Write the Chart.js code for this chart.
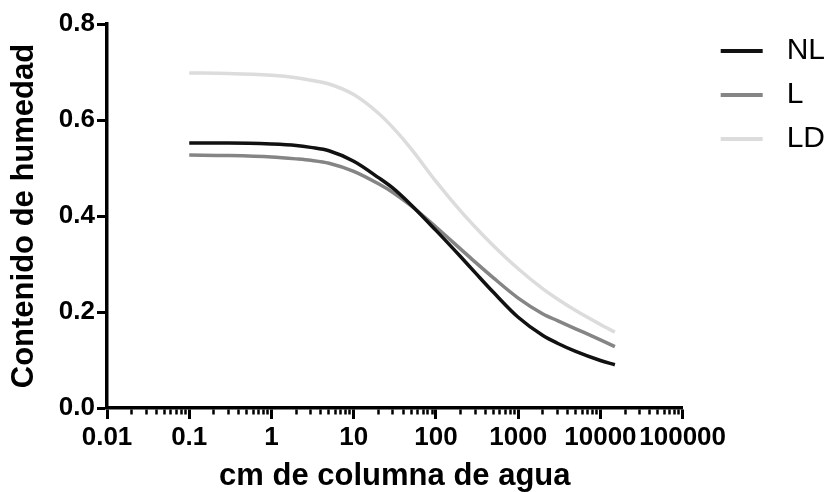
<!DOCTYPE html>
<html>
<head>
<meta charset="utf-8">
<script src="https://cdn.jsdelivr.net/npm/chart.js"></script>
<style>
  html, body { margin: 0; padding: 0; background: #ffffff; }
  #wrap { width: 827px; height: 492px; }
</style>
</head>
<body>
<div id="wrap"><canvas id="c" width="827" height="492"></canvas></div>
<script>
// ---- data ----
const xValues  = [0.1, 0.3, 1, 2, 3, 5, 10, 20, 30, 50, 100, 200, 300, 500, 1000, 2000, 3000, 5000, 10000, 15000];
const nlValues = [0.552, 0.552, 0.550, 0.547, 0.543, 0.536, 0.514, 0.480, 0.458, 0.423, 0.370, 0.315, 0.282, 0.241, 0.189, 0.151, 0.135, 0.118, 0.099, 0.090];
const lValues  = [0.527, 0.526, 0.523, 0.519, 0.516, 0.510, 0.493, 0.467, 0.449, 0.421, 0.377, 0.331, 0.304, 0.271, 0.229, 0.196, 0.182, 0.165, 0.142, 0.128];
const ldValues = [0.698, 0.697, 0.693, 0.688, 0.683, 0.675, 0.653, 0.614, 0.584, 0.540, 0.472, 0.410, 0.377, 0.338, 0.290, 0.248, 0.227, 0.203, 0.174, 0.158];
const seriesNames = ['NL', 'L', 'LD'];
const decadeTicks = [0.01, 0.1, 1, 10, 100, 1000, 10000, 100000];
const decadeLabels = ['0.01', '0.1', '1', '10', '100', '1000', '10000', '100000'];
const yTickValues = [0, 0.2, 0.4, 0.6, 0.8];
const yTickLabels = ['0.0', '0.2', '0.4', '0.6', '0.8'];
const xTitle = 'cm de columna de agua';
const yTitle = 'Contenido de humedad';

const colors = ['#111111', '#858585', '#dcdcdc'];
const FONT = "'Liberation Sans', Arial, Helvetica, sans-serif";

function swatch(color) {
  const cv = document.createElement('canvas');
  cv.width = 75; cv.height = 4;
  const g = cv.getContext('2d');
  g.fillStyle = color;
  g.fillRect(24, 0, 42, 4);
  return cv;
}

function isDecade(v) {
  return decadeTicks.findIndex(d => Math.abs(Math.log10(v) - Math.log10(d)) < 1e-6);
}

const seriesValues = [nlValues, lValues, ldValues];
const datasets = seriesNames.map((name, k) => ({
  label: name,
  data: xValues.map((x, i) => ({ x: x, y: seriesValues[k][i] })),
  borderColor: colors[k],
  backgroundColor: colors[k],
  borderWidth: 3.5,
  pointRadius: 0,
  pointHoverRadius: 0,
  pointStyle: swatch(colors[k]),
  cubicInterpolationMode: 'monotone',
  fill: false
}));

new Chart(document.getElementById('c'), {
  type: 'line',
  data: { datasets: datasets },
  options: {
    responsive: false,
    animation: false,
    devicePixelRatio: 1,
    layout: { padding: { top: 22, right: -8, bottom: 0, left: 0 } },
    plugins: {
      tooltip: { enabled: false },
      legend: {
        position: 'right',
        align: 'start',
        labels: {
          usePointStyle: true,
          pointStyleWidth: 75,
          padding: 14,
          color: '#000000',
          font: { family: FONT, size: 30 }
        }
      }
    },
    scales: {
      x: {
        type: 'logarithmic',
        min: 0.01,
        max: 100000,
        afterBuildTicks: (scale) => {
          const t = [];
          for (let i = 0; i < decadeTicks.length; i++) {
            t.push({ value: decadeTicks[i], major: true });
            if (i < decadeTicks.length - 1) {
              for (let m = 2; m <= 9; m++) t.push({ value: decadeTicks[i] * m, major: false });
            }
          }
          scale.ticks = t;
        },
        afterFit: (scale) => { scale.height = 84; },
        grid: {
          drawOnChartArea: false,
          drawTicks: true,
          tickLength: 11,
          tickColor: '#000000',
          tickWidth: (ctx) => (ctx.tick && isDecade(ctx.tick.value) >= 0) ? 3 : 2.5,
          tickBorderDash: (ctx) => (ctx.tick && isDecade(ctx.tick.value) >= 0) ? [] : [5, 30]
        },
        border: { display: true, color: '#000000', width: 3.5 },
        ticks: {
          autoSkip: false,
          maxRotation: 0,
          minRotation: 0,
          padding: 3,
          color: '#000000',
          font: { family: FONT, size: 26, weight: 'bold' },
          callback: (value) => {
            const idx = isDecade(value);
            return idx >= 0 ? decadeLabels[idx] : '';
          }
        },
        title: {
          display: true,
          text: xTitle,
          color: '#000000',
          font: { family: FONT, size: 31, weight: 'bold', lineHeight: 1.0 },
          padding: { top: 0, bottom: 0 }
        }
      },
      y: {
        min: 0,
        max: 0.8,
        afterBuildTicks: (scale) => {
          scale.ticks = yTickValues.map(v => ({ value: v }));
        },
        afterFit: (scale) => { scale.width = 107; scale.paddingTop = 24; },
        grid: {
          drawOnChartArea: false,
          drawTicks: true,
          tickLength: 10,
          tickWidth: 3,
          tickColor: '#000000'
        },
        border: { display: true, color: '#000000', width: 3.5 },
        ticks: {
          padding: 2,
          color: '#000000',
          font: { family: FONT, size: 26, weight: 'bold' },
          callback: (value) => {
            const idx = yTickValues.findIndex(v => Math.abs(v - value) < 1e-6);
            return idx >= 0 ? yTickLabels[idx] : '';
          }
        },
        title: {
          display: true,
          text: yTitle,
          color: '#000000',
          font: { family: FONT, size: 31, weight: 'bold', lineHeight: 1.0 },
          padding: { top: 9, bottom: 0 }
        }
      }
    }
  }
});
</script>
</body>
</html>
